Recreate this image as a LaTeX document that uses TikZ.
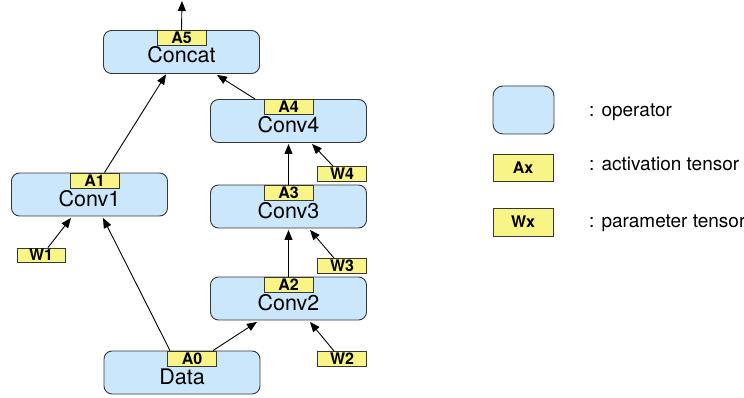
\documentclass[tikz,border=0pt]{standalone}
\usepackage{fontspec}
\setmainfont{TeX Gyre Heros}
\usetikzlibrary{arrows.meta,calc}
\definecolor{opfill}{RGB}{203,231,252}
\definecolor{tfill}{RGB}{248,244,134}
\definecolor{edge}{RGB}{55,55,55}
\tikzset{
  opbox/.style={draw=edge,line width=0.9pt,fill=opfill,rounded corners=8pt,
    minimum width=156pt,minimum height=43pt,inner sep=0pt},
  optext/.style={anchor=base,inner sep=0pt,font=\fontsize{21.5}{23}\selectfont},
  tensor/.style={draw=edge,line width=0.9pt,fill=tfill,minimum width=49pt,
    minimum height=15pt,inner sep=0pt,font=\bfseries\fontsize{16}{17}\selectfont},
  keytext/.style={anchor=base west,inner sep=0pt,font=\fontsize{19}{21}\selectfont},
  arr/.style={draw=black,line width=0.9pt,-{Triangle[length=10pt,width=8pt]}},
}
\begin{document}
\begin{tikzpicture}[x=1pt,y=-1pt]
\useasboundingbox (0,0) rectangle (744,398);

% operators
\node[opbox] (concat) at (181.5,52) {};
\node[opbox] (conv4) at (288.5,121) {};
\node[opbox] (conv1) at (89.5,194.5) {};
\node[opbox] (conv3) at (288.5,206.5) {};
\node[opbox] (conv2) at (288.5,298.5) {};
\node[opbox] (data) at (182,372.5) {};

% operator names
\node[optext] (tconcat) at ($(concat.north)+(0,32.5)$) {Concat};
\node[optext] (tconv4) at ($(conv4.north)+(0,33.5)$) {Conv4};
\node[optext] (tconv1) at ($(conv1.north)+(0,33.5)$) {Conv1};
\node[optext] (tconv3) at ($(conv3.north)+(0,33.5)$) {Conv3};
\node[optext] (tconv2) at ($(conv2.north)+(0,33.5)$) {Conv2};
\node[optext] (tdata) at ($(data.north)+(0,33.5)$) {Data};

% activation tensors
\node[tensor,anchor=north] (a5) at (concat.north) {A5};
\node[tensor,anchor=north] (a4) at (conv4.north) {A4};
\node[tensor,anchor=north] (a1) at ($(conv1.north)+(5,0)$) {A1};
\node[tensor,anchor=north] (a3) at (conv3.north) {A3};
\node[tensor,anchor=north] (a2) at (conv2.north) {A2};
\node[tensor,anchor=north] (a0) at ($(data.north)+(10,0)$) {A0};

% parameter tensors
\node[tensor] (w4) at (342,174) {W4};
\node[tensor] (w3) at (342,266) {W3};
\node[tensor] (w2) at (342,359) {W2};
\node[tensor,minimum width=48pt,minimum height=14pt] (w1) at (41,255) {W1};

% output
\coordinate (out) at (182,1);
\draw[arr] (a5.north) -- (out);

% data flow
\draw[arr] ($(a1.north)+(10,0)$) -- ($(concat.south)+(-15.5,0.5)$);
\draw[arr] ($(conv4.north)+(-33.5,0)$) -- ($(concat.south)+(35.5,1)$);
\draw[arr] (a3.north) -- ($(conv4.south)+(0,1)$);
\draw[arr] ($(w4.north)+(-9,0)$) -- ($(conv4.south)+(23.5,1)$);
\draw[arr] ($(w1.north)+(7,0)$) -- ($(conv1.south)+(-18.5,1.5)$);
\draw[arr] ($(a0.north)+(-22,0)$) -- ($(conv1.south)+(13.5,1.5)$);
\draw[arr] ($(a0.north)+(21,0)$) -- ($(conv2.south)+(-31.5,1.5)$);
\draw[arr] (a2.north) -- ($(conv3.south)+(0,1.5)$);
\draw[arr] ($(w3.north)+(-8,0)$) -- ($(conv3.south)+(21.5,1.5)$);
\draw[arr] ($(w2.north)+(-8,0)$) -- ($(conv2.south)+(21.5,1.5)$);

% key
\node[opbox,minimum width=61pt,minimum height=48pt,rounded corners=10pt] (keyop) at (523.5,110) {};
\node[tensor,minimum width=60pt,minimum height=27pt] (keyact) at (523,167.5) {Ax};
\node[tensor,minimum width=60pt,minimum height=28pt] (keypar) at (523,222) {Wx};
\node[keytext] (keyoptext) at (589,117) {: operator};
\node[keytext] (keyacttext) at (589,171) {: activation tensor};
\node[keytext] (keypartext) at (589,227) {: parameter tensor};
\end{tikzpicture}
\end{document}
